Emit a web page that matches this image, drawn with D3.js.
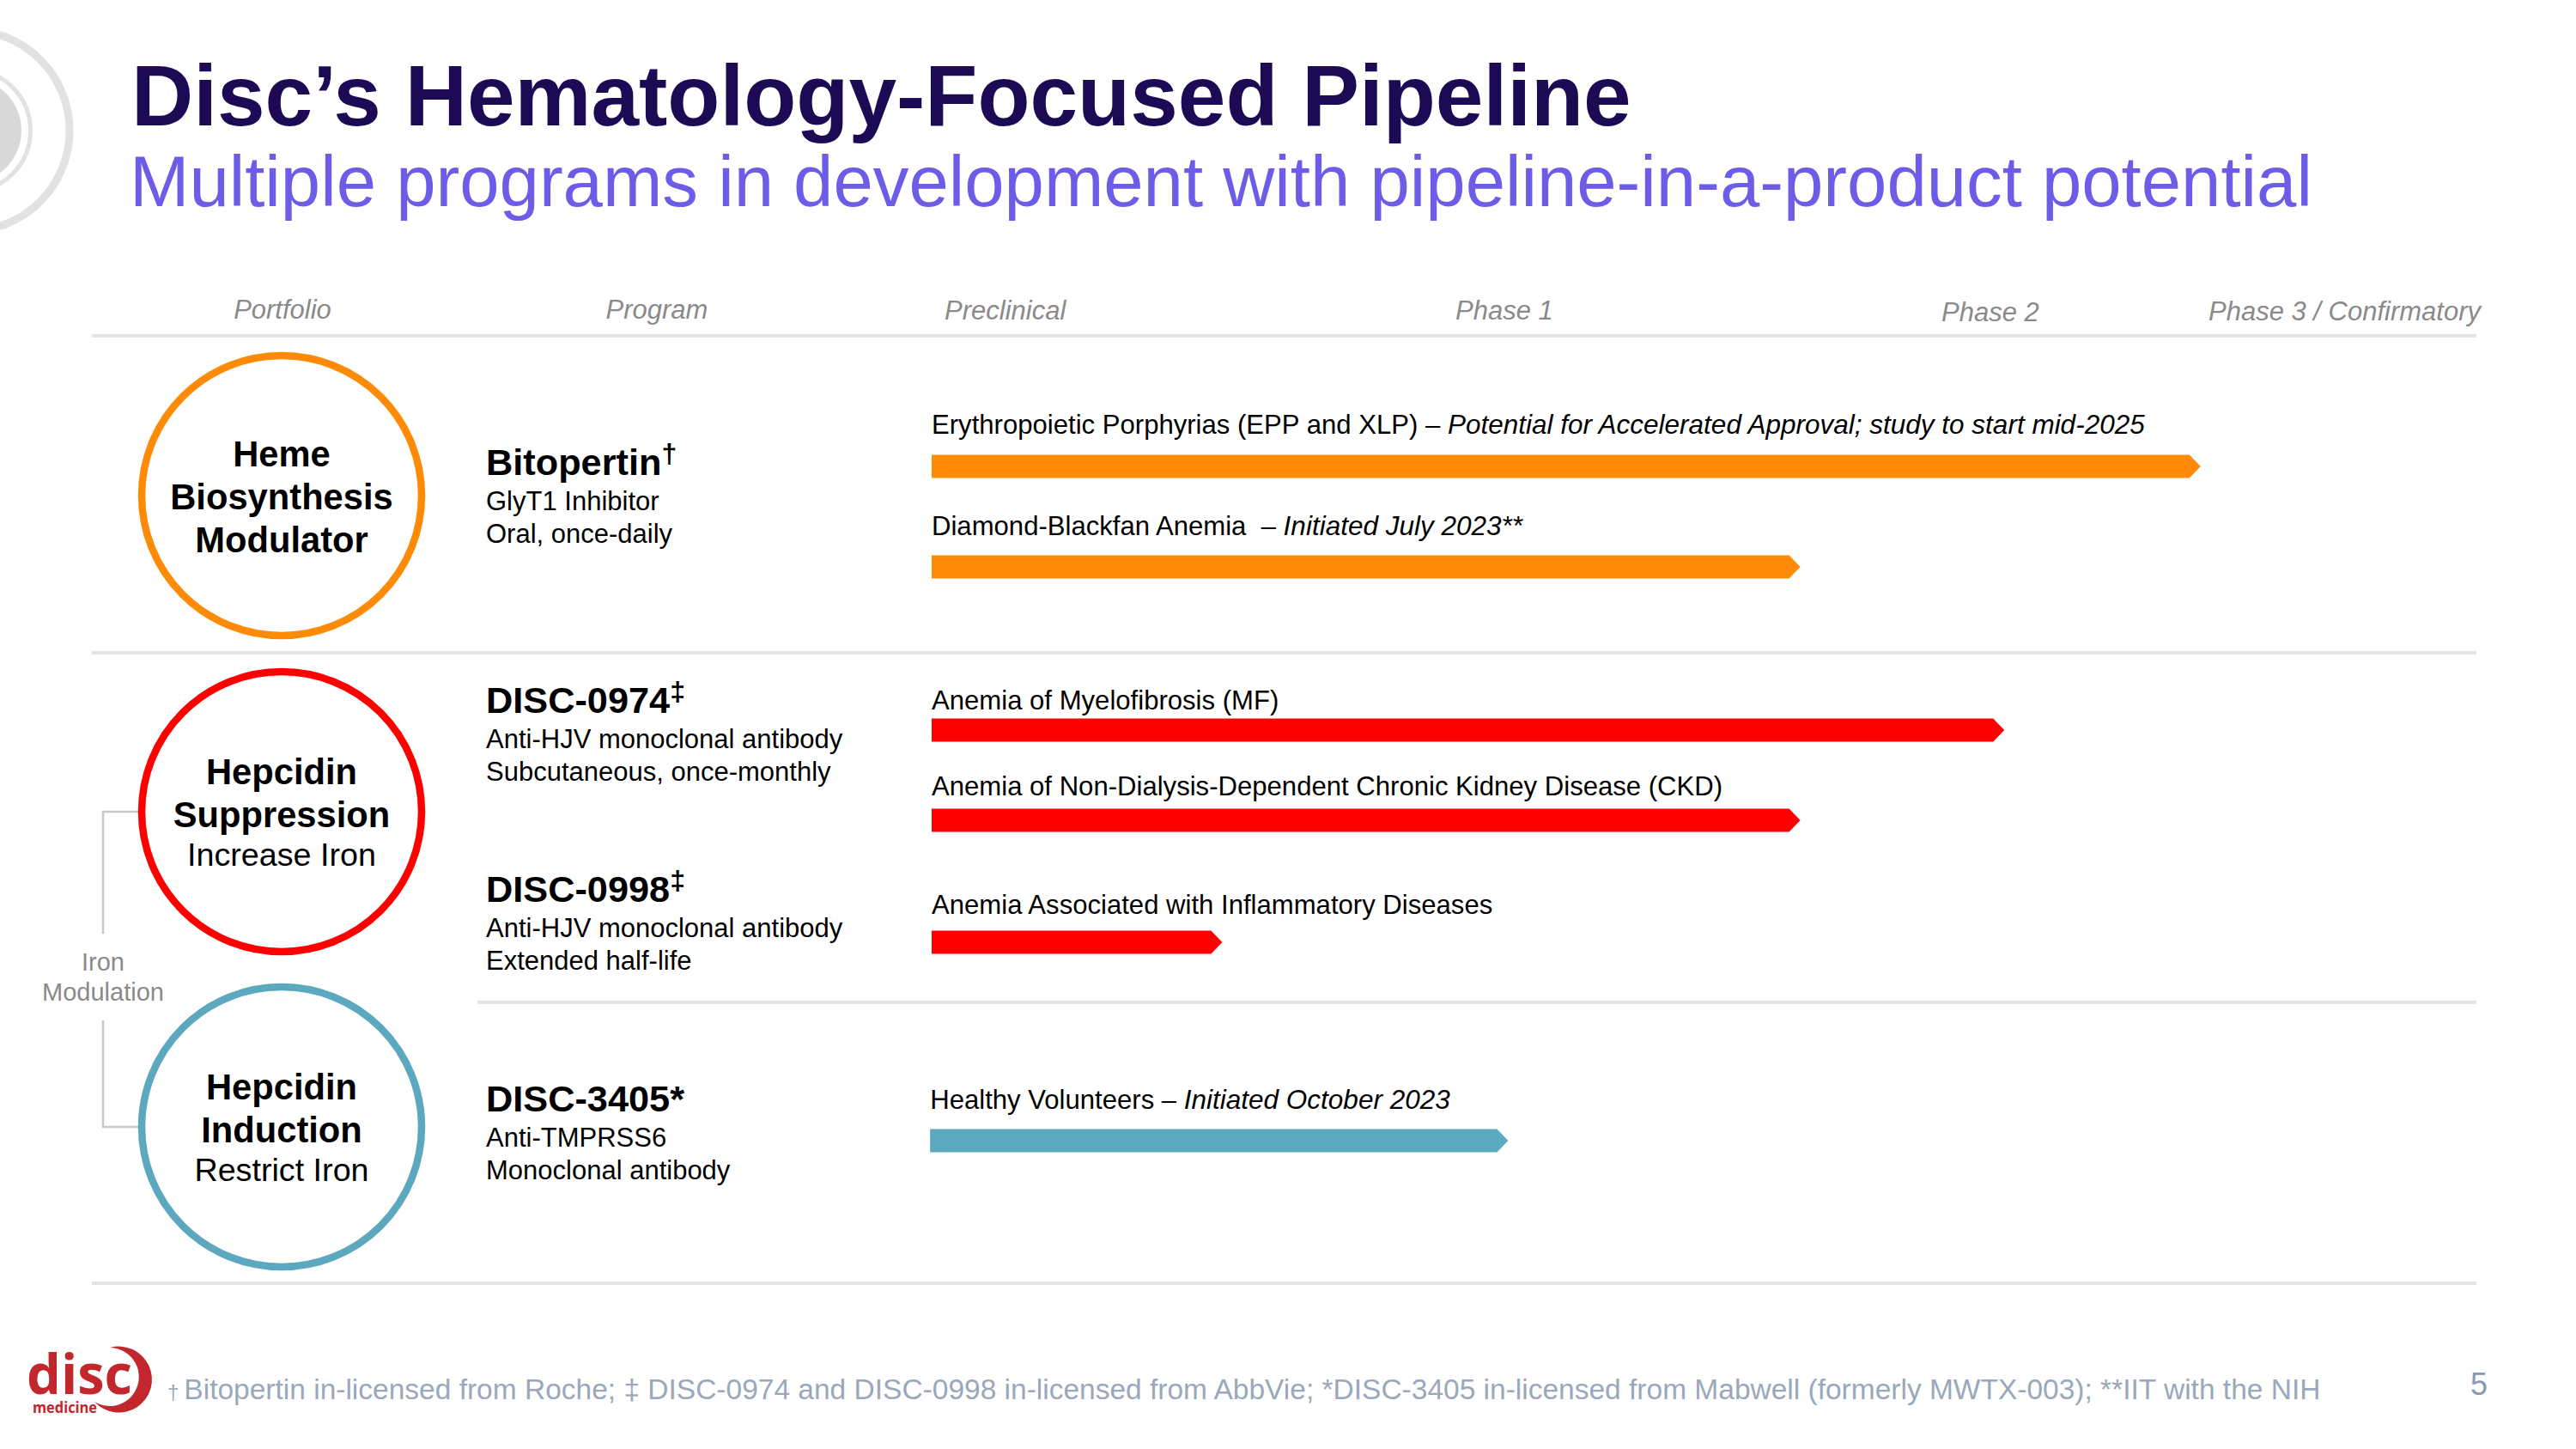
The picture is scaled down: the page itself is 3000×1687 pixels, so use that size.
<!DOCTYPE html>
<html>
<head>
<meta charset="utf-8">
<script src="https://cdn.jsdelivr.net/npm/d3@7"></script>
<style>
  html, body { margin: 0; padding: 0; background: #fff; }
  svg { display: block; }
  text { font-family: "Liberation Sans", Arial, sans-serif; white-space: pre; }
</style>
</head>
<body>
<div id="chart"></div>
<script>
const titleText = "Disc\u2019s Hematology-Focused Pipeline";
const subtitleText = "Multiple programs in development with pipeline-in-a-product potential";

const headers = ["Portfolio", "Program", "Preclinical", "Phase 1", "Phase 2", "Phase 3 / Confirmatory"];

const portfolios = ["Heme", "Suppression", "Induction"];
const portfolioBold = [["Heme", "Biosynthesis", "Modulator"], ["Hepcidin", "Suppression"], ["Hepcidin", "Induction"]];
const portfolioPlain = [[], ["Increase Iron"], ["Restrict Iron"]];

const programs = ["Bitopertin", "DISC-0974", "DISC-0998", "DISC-3405"];
const programMarks = ["\u2020", "\u2021", "\u2021", "*"];
const programDetails = [
    ["GlyT1 Inhibitor", "Oral, once-daily"],
    ["Anti-HJV monoclonal antibody", "Subcutaneous, once-monthly"],
    ["Anti-HJV monoclonal antibody", "Extended half-life"],
    ["Anti-TMPRSS6", "Monoclonal antibody"]
];

const indications = [
    "Erythropoietic Porphyrias (EPP and XLP) \u2013 ",
    "Diamond-Blackfan Anemia  \u2013 ",
    "Anemia of Myelofibrosis (MF)",
    "Anemia of Non-Dialysis-Dependent Chronic Kidney Disease (CKD)",
    "Anemia Associated with Inflammatory Diseases",
    "Healthy Volunteers \u2013 "
];
const indicationNotes = [
    "Potential for Accelerated Approval; study to start mid-2025",
    "Initiated July 2023**",
    "", "", "",
    "Initiated October 2023"
];
// how far along each bar reaches, 0 = start of preclinical, 100 = right end of the table
const barStart = [0, 0, 0, 0, 0, -0.1];
const barEnd = [82.1, 56.2, 69.4, 56.2, 18.8, 37.3];
const barPortfolio = ["Heme", "Heme", "Suppression", "Suppression", "Suppression", "Induction"];

const footnote = "Bitopertin in-licensed from Roche; \u2021 DISC-0974 and DISC-0998 in-licensed from AbbVie; *DISC-3405 in-licensed from Mabwell (formerly MWTX-003); **IIT with the NIH";

const svg = d3.select("#chart").append("svg").attr("width", 3000).attr("height", 1687);

const color = d3.scaleOrdinal(portfolios, ["#ff8a05", "#ff0000", "#5ba8bf"]);
const x = d3.scaleLinear().domain([0, 100]).range([1085, 2885]);
const barY = d3.scaleOrdinal(indications, [543, 660, 850, 955, 1097, 1328]);
const labelY = d3.scaleOrdinal(indications, [505, 623, 826, 926, 1064, 1291]);
const circleY = d3.scaleOrdinal(portfolios, [577, 945, 1312]);

// faded rings bleeding off the top left corner
const rings = svg.append("g").attr("fill", "none");
rings.append("circle").attr("cx", -36).attr("cy", 152).attr("r", 117).attr("stroke", "#e2e2e2").attr("stroke-width", 9);
rings.append("circle").attr("cx", -36).attr("cy", 152).attr("r", 71.5).attr("stroke", "#e2e2e2").attr("stroke-width", 5);
rings.append("circle").attr("cx", -36).attr("cy", 152).attr("r", 61).attr("fill", "#d9d9d9");

svg.append("text").attr("x", 153).attr("y", 146)
    .attr("font-size", 100).attr("font-weight", 700).attr("fill", "#1c0b54").text(titleText);
svg.append("text").attr("x", 151).attr("y", 239.5)
    .attr("font-size", 83.3).attr("fill", "#6c5ce7").text(subtitleText);

// header row
const headerX = d3.scaleOrdinal(headers, [329, 765, 1100, 1752, 2318, 2572]);
const headerBase = d3.scaleOrdinal(headers, [371, 371, 372, 372, 374, 373]);
const headerAnchor = d3.scaleOrdinal(headers, ["middle", "middle", "start", "middle", "middle", "start"]);
svg.append("g").selectAll("text").data(headers).join("text")
    .attr("x", d => headerX(d)).attr("y", d => headerBase(d))
    .attr("text-anchor", d => headerAnchor(d))
    .attr("font-size", 31).attr("font-style", "italic").attr("fill", "#8a8a8a")
    .text(d => d);

// table rules
const rules = [[107, 391], [107, 760], [556, 1167], [107, 1494]];
svg.append("g").selectAll("line").data(rules).join("line")
    .attr("x1", d => d[0]).attr("x2", 2884)
    .attr("y1", d => d[1]).attr("y2", d => d[1])
    .attr("stroke", "#e4e4e4").attr("stroke-width", 4);

// bracket joining the two hepcidin circles
svg.append("path")
    .attr("d", d3.line()([[161, circleY("Suppression")], [120, circleY("Suppression")], [120, 1087]]))
    .attr("fill", "none").attr("stroke", "#c8c8c8").attr("stroke-width", 2.5);
svg.append("path")
    .attr("d", d3.line()([[120, 1188], [120, circleY("Induction")], [161, circleY("Induction")]]))
    .attr("fill", "none").attr("stroke", "#c8c8c8").attr("stroke-width", 2.5);
svg.append("g").selectAll("text").data(["Iron", "Modulation"]).join("text")
    .attr("x", 120).attr("y", (d, i) => 1130 + i * 35)
    .attr("text-anchor", "middle").attr("font-size", 29).attr("fill", "#8a8a8a")
    .text(d => d);

// portfolio circles
const circles = svg.append("g").selectAll("g").data(portfolios).join("g")
    .attr("transform", d => `translate(328,${circleY(d)})`);
circles.append("circle").attr("r", 163)
    .attr("fill", "#fff").attr("stroke", d => color(d)).attr("stroke-width", 8.5);
circles.each(function(d, i) {
    const g = d3.select(this);
    const bold = portfolioBold[i], plain = portfolioPlain[i];
    const top = i === 0 ? -34 : -32;
    bold.forEach((t, j) => {
        g.append("text").attr("y", top + j * 50).attr("text-anchor", "middle")
            .attr("font-size", 41.7).attr("font-weight", 700).attr("fill", "#000").text(t);
    });
    plain.forEach(t => {
        g.append("text").attr("y", top - 1 + bold.length * 48).attr("text-anchor", "middle")
            .attr("font-size", 37.7).attr("fill", "#000").text(t);
    });
});

// program names and details
const programY = d3.scaleOrdinal(programs, [553, 830, 1050, 1294]);
const progs = svg.append("g").selectAll("g").data(programs).join("g")
    .attr("transform", d => `translate(566,${programY(d)})`);
const nameText = progs.append("text").attr("font-size", 43.3).attr("font-weight", 700).attr("fill", "#000");
nameText.append("tspan").text(d => d);
nameText.append("tspan")
    .attr("font-size", d => d === "DISC-3405" ? 43.3 : 32)
    .attr("dy", d => d === "DISC-3405" ? 0 : -14)
    .text((d, i) => programMarks[i]);
progs.each(function(d, i) {
    d3.select(this).selectAll("text.detail").data(programDetails[i]).join("text")
        .attr("class", "detail").attr("y", (t, j) => 41 + j * 38)
        .attr("font-size", 31).attr("fill", "#000").text(t => t);
});

// indication labels
const labels = svg.append("g").selectAll("text").data(indications).join("text")
    .attr("x", (d, i) => x(barStart[i])).attr("y", d => labelY(d))
    .attr("font-size", 31.1).attr("fill", "#000");
labels.append("tspan").text(d => d);
labels.append("tspan").attr("font-style", "italic").attr("font-size", 31.5).text((d, i) => indicationNotes[i]);

// bars with a small arrow head, built from the x scale
const barH = 27, tip = 13;
const barPath = d3.line();
svg.append("g").selectAll("path").data(indications).join("path")
    .attr("fill", (d, i) => color(barPortfolio[i]))
    .attr("d", (d, i) => {
        const x0 = x(barStart[i]), x1 = x(barEnd[i]), y = barY(d);
        return barPath([[x0, y - barH / 2], [x1 - tip, y - barH / 2], [x1, y], [x1 - tip, y + barH / 2], [x0, y + barH / 2]]) + "Z";
    });

// footer
const foot = svg.append("text").attr("x", 195).attr("y", 1629).attr("font-size", 33.5).attr("fill", "#9aa8bb");
foot.append("tspan").attr("font-size", 24).text("\u2020");
foot.append("tspan").attr("dx", 6).text(footnote);
svg.append("text").attr("x", 2887).attr("y", 1624).attr("text-anchor", "middle")
    .attr("font-size", 36).attr("fill", "#8a9ab0").text("5");

// company mark
const logo = svg.append("g").attr("fill", "#c1272d");
logo.append("text").attr("x", 31).attr("y", 1623).attr("font-size", 65).attr("font-weight", 700)
    .style("font-family", "'Open Sans'")
    .attr("textLength", 123).attr("lengthAdjust", "spacingAndGlyphs").text("disc");
logo.append("text").attr("x", 38).attr("y", 1645).attr("font-size", 18).attr("font-weight", 700)
    .style("font-family", "'Open Sans'")
    .attr("textLength", 75).attr("lengthAdjust", "spacingAndGlyphs").text("medicine");
logo.append("path").attr("d", "M128,1569 A38.5,38.5 0 1 1 110,1632 A34,34 0 1 0 128,1569 Z");
</script>
</body>
</html>
